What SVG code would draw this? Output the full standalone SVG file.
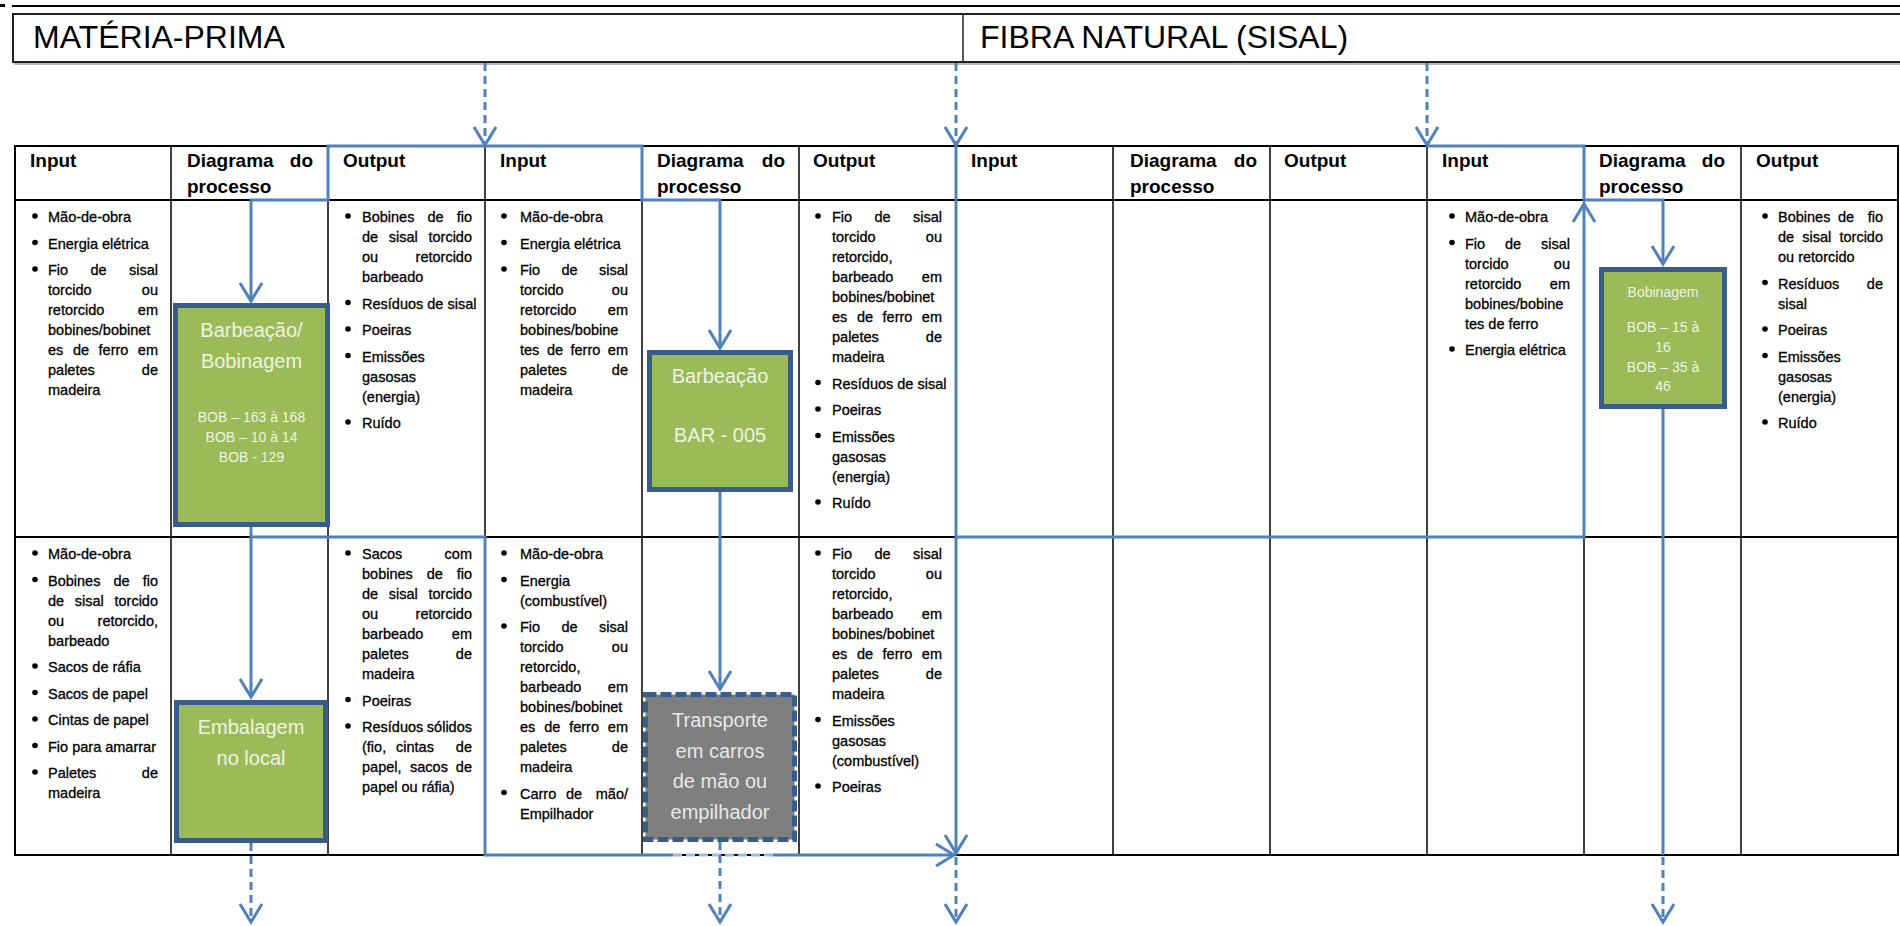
<svg xmlns="http://www.w3.org/2000/svg" width="1900" height="926" viewBox="0 0 1900 926">
<style>
.t{font-family:'Liberation Sans',Arial,sans-serif;font-size:14.5px;fill:#000;stroke:#000;stroke-width:0.3}
.r{text-anchor:end}
.h{font-family:'Liberation Sans',Arial,sans-serif;font-size:19px;font-weight:bold;fill:#000}
.he{text-anchor:end}
.big{font-family:'Liberation Sans',Arial,sans-serif;font-size:32px;fill:#000}
.bx{font-family:'Liberation Sans',Arial,sans-serif;font-size:20px;fill:#EEF3E2;text-anchor:middle}
.bs{font-family:'Liberation Sans',Arial,sans-serif;font-size:14px;fill:#EEF3E2;text-anchor:middle}
.gx{font-family:'Liberation Sans',Arial,sans-serif;font-size:20px;fill:#E8E8E8;text-anchor:middle}
.grid{stroke:#000;stroke-width:1.5;fill:none}
.gridb{stroke:#000;stroke-width:2;fill:none}
.c{fill:none;stroke:#4F81BD;stroke-width:3}
.d{fill:none;stroke:#4F81BD;stroke-width:3;stroke-dasharray:8 5}
.gb{fill:#9BBB59;stroke:#385D8A;stroke-width:5}
.tb{fill:#7F7F7F;stroke:#385D8A;stroke-width:5;stroke-dasharray:11 4}
</style>
<defs>
<marker id="ah" markerUnits="userSpaceOnUse" markerWidth="26" markerHeight="26" refX="21" refY="13" orient="auto" overflow="visible">
<path d="M3,2 L21,13 L3,24" fill="none" stroke="#4F81BD" stroke-width="3" stroke-dasharray="none"/>
</marker>
</defs>

<!-- top rule -->
<rect x="0" y="4" width="5" height="3" fill="#000"/>
<line x1="12" y1="6" x2="1900" y2="6" stroke="#000" stroke-width="2"/>

<!-- header band -->
<g id="header">
<rect x="15" y="16" width="1895" height="48" fill="none" stroke="#A0A0A0" stroke-width="1.5"/>
<rect x="13" y="14" width="1895" height="48" fill="#fff" stroke="#222" stroke-width="2"/>
<line x1="963" y1="14" x2="963" y2="62" stroke="#222" stroke-width="1.5"/>
<text class="big" x="33" y="48">MATÉRIA-PRIMA</text>
<text class="big" x="980" y="48">FIBRA NATURAL (SISAL)</text>
</g>

<!-- table grid -->
<g id="table">
<rect class="gridb" x="15" y="146" width="1883" height="709"/>
<line class="gridb" x1="15" y1="200" x2="1898" y2="200"/>
<line class="gridb" x1="15" y1="537" x2="1898" y2="537"/>
<line class="grid" x1="171" y1="146" x2="171" y2="855"/>
<line class="grid" x1="328" y1="146" x2="328" y2="855"/>
<line class="grid" x1="485" y1="146" x2="485" y2="855"/>
<line class="grid" x1="642" y1="146" x2="642" y2="855"/>
<line class="grid" x1="799" y1="146" x2="799" y2="855"/>
<line class="grid" x1="956" y1="146" x2="956" y2="855"/>
<line class="grid" x1="1113" y1="146" x2="1113" y2="855"/>
<line class="grid" x1="1270" y1="146" x2="1270" y2="855"/>
<line class="grid" x1="1427" y1="146" x2="1427" y2="855"/>
<line class="grid" x1="1584" y1="146" x2="1584" y2="855"/>
<line class="grid" x1="1741" y1="146" x2="1741" y2="855"/>
</g>

<!-- header labels -->
<g id="col-headers">
<text class="h" x="30" y="167">Input</text>
<text class="h" x="187" y="167">Diagrama</text><text class="h he" x="313" y="167">do</text><text class="h" x="187" y="193">processo</text>
<text class="h" x="343" y="167">Output</text>
<text class="h" x="500" y="167">Input</text>
<text class="h" x="657" y="167">Diagrama</text><text class="h he" x="785" y="167">do</text><text class="h" x="657" y="193">processo</text>
<text class="h" x="813" y="167">Output</text>
<text class="h" x="971" y="167">Input</text>
<text class="h" x="1130" y="167">Diagrama</text><text class="h he" x="1257" y="167">do</text><text class="h" x="1130" y="193">processo</text>
<text class="h" x="1284" y="167">Output</text>
<text class="h" x="1442" y="167">Input</text>
<text class="h" x="1599" y="167">Diagrama</text><text class="h he" x="1725" y="167">do</text><text class="h" x="1599" y="193">processo</text>
<text class="h" x="1756" y="167">Output</text>
</g>

<!-- connectors -->
<g id="connectors">
<path class="d" d="M485,63 V145" marker-end="url(#ah)"/>
<path class="d" d="M956,63 V145" marker-end="url(#ah)"/>
<path class="d" d="M1427,63 V145" marker-end="url(#ah)"/>
<path class="c" d="M485,146 H328 V200 H251 V301" marker-end="url(#ah)"/>
<path class="c" d="M485,146 H642 V200 H720 V348" marker-end="url(#ah)"/>
<path class="c" d="M251,527 V697" marker-end="url(#ah)"/>
<path class="c" d="M251,537 H485 V855 H673"/>
<path d="M673,855 H773" fill="none" stroke="#9DBBE0" stroke-width="3" stroke-dasharray="9 4"/>
<path class="c" d="M773,855 H954" marker-end="url(#ah)"/>
<path class="c" d="M720,492 V689" marker-end="url(#ah)"/>
<path class="c" d="M956,146 V853" marker-end="url(#ah)"/>
<path class="c" d="M956,537 H1584 V204" marker-end="url(#ah)"/>
<path class="c" d="M1427,146 H1584 V200 H1663 V264" marker-end="url(#ah)"/>
<path class="c" d="M1663,409 V855"/>
<path class="d" d="M251,843 V922" marker-end="url(#ah)"/>
<path class="d" d="M720,842 V922" marker-end="url(#ah)"/>
<path class="d" d="M956,857 V922" marker-end="url(#ah)"/>
<path class="d" d="M1663,857 V922" marker-end="url(#ah)"/>
</g>

<!-- process nodes -->
<g id="node-barbeacao-bobinagem">
<rect class="gb" x="175.5" y="305.5" width="152" height="219"/>
<text class="bx" x="251.5" y="337">Barbeação/</text>
<text class="bx" x="251.5" y="368">Bobinagem</text>
<text class="bs" x="251.5" y="422">BOB – 163 à 168</text>
<text class="bs" x="251.5" y="442">BOB – 10 à 14</text>
<text class="bs" x="251.5" y="462">BOB - 129</text>
</g>
<g id="node-barbeacao">
<rect class="gb" x="649.5" y="352.5" width="141" height="137"/>
<text class="bx" x="720" y="383">Barbeação</text>
<text class="bx" x="720" y="442">BAR - 005</text>
</g>
<g id="node-embalagem">
<rect class="gb" x="176.5" y="702.5" width="149" height="138"/>
<text class="bx" x="251" y="734">Embalagem</text>
<text class="bx" x="251" y="765">no local</text>
</g>
<g id="node-transporte">
<rect class="tb" x="645.5" y="694.5" width="149" height="145"/>
<text class="gx" x="720" y="727">Transporte</text>
<text class="gx" x="720" y="758">em carros</text>
<text class="gx" x="720" y="788">de mão ou</text>
<text class="gx" x="720" y="819">empilhador</text>
</g>
<g id="node-bobinagem">
<rect class="gb" x="1601.5" y="269.5" width="123" height="137"/>
<text class="bs" x="1663" y="297">Bobinagem</text>
<text class="bs" x="1663" y="332">BOB – 15 à</text>
<text class="bs" x="1663" y="352">16</text>
<text class="bs" x="1663" y="372">BOB – 35 à</text>
<text class="bs" x="1663" y="391">46</text>
</g>

<!-- cell texts row 1 -->
<g id="r1-c0-input">
<circle cx="35" cy="216" r="2.8"/><text class="t" x="48" y="222">Mão-de-obra</text>
<circle cx="35" cy="242.5" r="2.8"/><text class="t" x="48" y="248.5">Energia elétrica</text>
<circle cx="35" cy="269" r="2.8"/><text class="t" y="275"><tspan x="48">Fio</tspan><tspan x="90.5">de</tspan></text><text class="t r" x="158" y="275">sisal</text>
<text class="t" x="48" y="295">torcido</text><text class="t r" x="158" y="295">ou</text>
<text class="t" x="48" y="315">retorcido</text><text class="t r" x="158" y="315">em</text>
<text class="t" x="48" y="335">bobines/bobinet</text>
<text class="t" y="355"><tspan x="48">es</tspan><tspan x="72.9">de</tspan><tspan x="98.6">ferro</tspan></text><text class="t r" x="158" y="355">em</text>
<text class="t" x="48" y="375">paletes</text><text class="t r" x="158" y="375">de</text>
<text class="t" x="48" y="395">madeira</text>
</g>
<g id="r1-c2-output">
<circle cx="348" cy="216" r="2.8"/><text class="t" y="222"><tspan x="362">Bobines</tspan><tspan x="427.5">de</tspan></text><text class="t r" x="472" y="222">fio</text>
<text class="t" y="242"><tspan x="362">de</tspan><tspan x="388.8">sisal</tspan></text><text class="t r" x="472" y="242">torcido</text>
<text class="t" x="362" y="262">ou</text><text class="t r" x="472" y="262">retorcido</text>
<text class="t" x="362" y="282">barbeado</text>
<circle cx="348" cy="302.5" r="2.8"/><text class="t" x="362" y="308.5">Resíduos de sisal</text>
<circle cx="348" cy="329" r="2.8"/><text class="t" x="362" y="335">Poeiras</text>
<circle cx="348" cy="355.5" r="2.8"/><text class="t" x="362" y="361.5">Emissões</text>
<text class="t" x="362" y="381.5">gasosas</text>
<text class="t" x="362" y="401.5">(energia)</text>
<circle cx="348" cy="422" r="2.8"/><text class="t" x="362" y="428">Ruído</text>
</g>
<g id="r1-c3-input">
<circle cx="504" cy="216" r="2.8"/><text class="t" x="520" y="222">Mão-de-obra</text>
<circle cx="504" cy="242.5" r="2.8"/><text class="t" x="520" y="248.5">Energia elétrica</text>
<circle cx="504" cy="269" r="2.8"/><text class="t" y="275"><tspan x="520">Fio</tspan><tspan x="561.5">de</tspan></text><text class="t r" x="628" y="275">sisal</text>
<text class="t" x="520" y="295">torcido</text><text class="t r" x="628" y="295">ou</text>
<text class="t" x="520" y="315">retorcido</text><text class="t r" x="628" y="315">em</text>
<text class="t" x="520" y="335">bobines/bobine</text>
<text class="t" y="355"><tspan x="520">tes</tspan><tspan x="546.9">de</tspan><tspan x="570.5">ferro</tspan></text><text class="t r" x="628" y="355">em</text>
<text class="t" x="520" y="375">paletes</text><text class="t r" x="628" y="375">de</text>
<text class="t" x="520" y="395">madeira</text>
</g>
<g id="r1-c5-output">
<circle cx="818" cy="216" r="2.8"/><text class="t" y="222"><tspan x="832">Fio</tspan><tspan x="874.5">de</tspan></text><text class="t r" x="942" y="222">sisal</text>
<text class="t" x="832" y="242">torcido</text><text class="t r" x="942" y="242">ou</text>
<text class="t" x="832" y="262">retorcido,</text>
<text class="t" x="832" y="282">barbeado</text><text class="t r" x="942" y="282">em</text>
<text class="t" x="832" y="302">bobines/bobinet</text>
<text class="t" y="322"><tspan x="832">es</tspan><tspan x="856.9">de</tspan><tspan x="882.6">ferro</tspan></text><text class="t r" x="942" y="322">em</text>
<text class="t" x="832" y="342">paletes</text><text class="t r" x="942" y="342">de</text>
<text class="t" x="832" y="362">madeira</text>
<circle cx="818" cy="382.5" r="2.8"/><text class="t" x="832" y="388.5">Resíduos de sisal</text>
<circle cx="818" cy="409" r="2.8"/><text class="t" x="832" y="415">Poeiras</text>
<circle cx="818" cy="435.5" r="2.8"/><text class="t" x="832" y="441.5">Emissões</text>
<text class="t" x="832" y="461.5">gasosas</text>
<text class="t" x="832" y="481.5">(energia)</text>
<circle cx="818" cy="502" r="2.8"/><text class="t" x="832" y="508">Ruído</text>
</g>
<g id="r1-c9-input">
<circle cx="1452" cy="216" r="2.8"/><text class="t" x="1465" y="222">Mão-de-obra</text>
<circle cx="1452" cy="242.5" r="2.8"/><text class="t" y="248.5"><tspan x="1465">Fio</tspan><tspan x="1505">de</tspan></text><text class="t r" x="1570" y="248.5">sisal</text>
<text class="t" x="1465" y="268.5">torcido</text><text class="t r" x="1570" y="268.5">ou</text>
<text class="t" x="1465" y="288.5">retorcido</text><text class="t r" x="1570" y="288.5">em</text>
<text class="t" x="1465" y="308.5">bobines/bobine</text>
<text class="t" x="1465" y="328.5">tes de ferro</text>
<circle cx="1452" cy="349" r="2.8"/><text class="t" x="1465" y="355">Energia elétrica</text>
</g>
<g id="r1-c11-output">
<circle cx="1765" cy="216" r="2.8"/><text class="t" y="222"><tspan x="1778">Bobines</tspan><tspan x="1838">de</tspan></text><text class="t r" x="1883" y="222">fio</text>
<text class="t" y="242"><tspan x="1778">de</tspan><tspan x="1802.3">sisal</tspan></text><text class="t r" x="1883" y="242">torcido</text>
<text class="t" x="1778" y="262">ou retorcido</text>
<circle cx="1765" cy="282.5" r="2.8"/><text class="t" x="1778" y="288.5">Resíduos</text><text class="t r" x="1883" y="288.5">de</text>
<text class="t" x="1778" y="308.5">sisal</text>
<circle cx="1765" cy="329" r="2.8"/><text class="t" x="1778" y="335">Poeiras</text>
<circle cx="1765" cy="355.5" r="2.8"/><text class="t" x="1778" y="361.5">Emissões</text>
<text class="t" x="1778" y="381.5">gasosas</text>
<text class="t" x="1778" y="401.5">(energia)</text>
<circle cx="1765" cy="422" r="2.8"/><text class="t" x="1778" y="428">Ruído</text>
</g>

<!-- cell texts row 2 -->
<g id="r2-c0-input">
<circle cx="35" cy="553" r="2.8"/><text class="t" x="48" y="559">Mão-de-obra</text>
<circle cx="35" cy="579.5" r="2.8"/><text class="t" y="585.5"><tspan x="48">Bobines</tspan><tspan x="113.5">de</tspan></text><text class="t r" x="158" y="585.5">fio</text>
<text class="t" y="605.5"><tspan x="48">de</tspan><tspan x="74.8">sisal</tspan></text><text class="t r" x="158" y="605.5">torcido</text>
<text class="t" x="48" y="625.5">ou</text><text class="t r" x="158" y="625.5">retorcido,</text>
<text class="t" x="48" y="645.5">barbeado</text>
<circle cx="35" cy="666" r="2.8"/><text class="t" x="48" y="672">Sacos de ráfia</text>
<circle cx="35" cy="692.5" r="2.8"/><text class="t" x="48" y="698.5">Sacos de papel</text>
<circle cx="35" cy="719" r="2.8"/><text class="t" x="48" y="725">Cintas de papel</text>
<circle cx="35" cy="745.5" r="2.8"/><text class="t" x="48" y="751.5">Fio para amarrar</text>
<circle cx="35" cy="772" r="2.8"/><text class="t" x="48" y="778">Paletes</text><text class="t r" x="158" y="778">de</text>
<text class="t" x="48" y="798">madeira</text>
</g>
<g id="r2-c2-output">
<circle cx="348" cy="553" r="2.8"/><text class="t" x="362" y="559">Sacos</text><text class="t r" x="472" y="559">com</text>
<text class="t" y="579"><tspan x="362">bobines</tspan><tspan x="426.7">de</tspan></text><text class="t r" x="472" y="579">fio</text>
<text class="t" y="599"><tspan x="362">de</tspan><tspan x="388.8">sisal</tspan></text><text class="t r" x="472" y="599">torcido</text>
<text class="t" x="362" y="619">ou</text><text class="t r" x="472" y="619">retorcido</text>
<text class="t" x="362" y="639">barbeado</text><text class="t r" x="472" y="639">em</text>
<text class="t" x="362" y="659">paletes</text><text class="t r" x="472" y="659">de</text>
<text class="t" x="362" y="679">madeira</text>
<circle cx="348" cy="699.5" r="2.8"/><text class="t" x="362" y="705.5">Poeiras</text>
<circle cx="348" cy="726" r="2.8"/><text class="t" x="362" y="732">Resíduos</text><text class="t r" x="472" y="732">sólidos</text>
<text class="t" y="752"><tspan x="362">(fio,</tspan><tspan x="396">cintas</tspan></text><text class="t r" x="472" y="752">de</text>
<text class="t" y="772"><tspan x="362">papel,</tspan><tspan x="410">sacos</tspan></text><text class="t r" x="472" y="772">de</text>
<text class="t" x="362" y="792">papel ou ráfia)</text>
</g>
<g id="r2-c3-input">
<circle cx="504" cy="553" r="2.8"/><text class="t" x="520" y="559">Mão-de-obra</text>
<circle cx="504" cy="579.5" r="2.8"/><text class="t" x="520" y="585.5">Energia</text>
<text class="t" x="520" y="605.5">(combustível)</text>
<circle cx="504" cy="626" r="2.8"/><text class="t" y="632"><tspan x="520">Fio</tspan><tspan x="561.5">de</tspan></text><text class="t r" x="628" y="632">sisal</text>
<text class="t" x="520" y="652">torcido</text><text class="t r" x="628" y="652">ou</text>
<text class="t" x="520" y="672">retorcido,</text>
<text class="t" x="520" y="692">barbeado</text><text class="t r" x="628" y="692">em</text>
<text class="t" x="520" y="712">bobines/bobinet</text>
<text class="t" y="732"><tspan x="520">es</tspan><tspan x="544.2">de</tspan><tspan x="569.2">ferro</tspan></text><text class="t r" x="628" y="732">em</text>
<text class="t" x="520" y="752">paletes</text><text class="t r" x="628" y="752">de</text>
<text class="t" x="520" y="772">madeira</text>
<circle cx="504" cy="792.5" r="2.8"/><text class="t" y="798.5"><tspan x="520">Carro</tspan><tspan x="566">de</tspan></text><text class="t r" x="628" y="798.5">mão/</text>
<text class="t" x="520" y="818.5">Empilhador</text>
</g>
<g id="r2-c5-output">
<circle cx="818" cy="553" r="2.8"/><text class="t" y="559"><tspan x="832">Fio</tspan><tspan x="874.5">de</tspan></text><text class="t r" x="942" y="559">sisal</text>
<text class="t" x="832" y="579">torcido</text><text class="t r" x="942" y="579">ou</text>
<text class="t" x="832" y="599">retorcido,</text>
<text class="t" x="832" y="619">barbeado</text><text class="t r" x="942" y="619">em</text>
<text class="t" x="832" y="639">bobines/bobinet</text>
<text class="t" y="659"><tspan x="832">es</tspan><tspan x="856.9">de</tspan><tspan x="882.6">ferro</tspan></text><text class="t r" x="942" y="659">em</text>
<text class="t" x="832" y="679">paletes</text><text class="t r" x="942" y="679">de</text>
<text class="t" x="832" y="699">madeira</text>
<circle cx="818" cy="719.5" r="2.8"/><text class="t" x="832" y="725.5">Emissões</text>
<text class="t" x="832" y="745.5">gasosas</text>
<text class="t" x="832" y="765.5">(combustível)</text>
<circle cx="818" cy="786" r="2.8"/><text class="t" x="832" y="792">Poeiras</text>
</g>
</svg>
